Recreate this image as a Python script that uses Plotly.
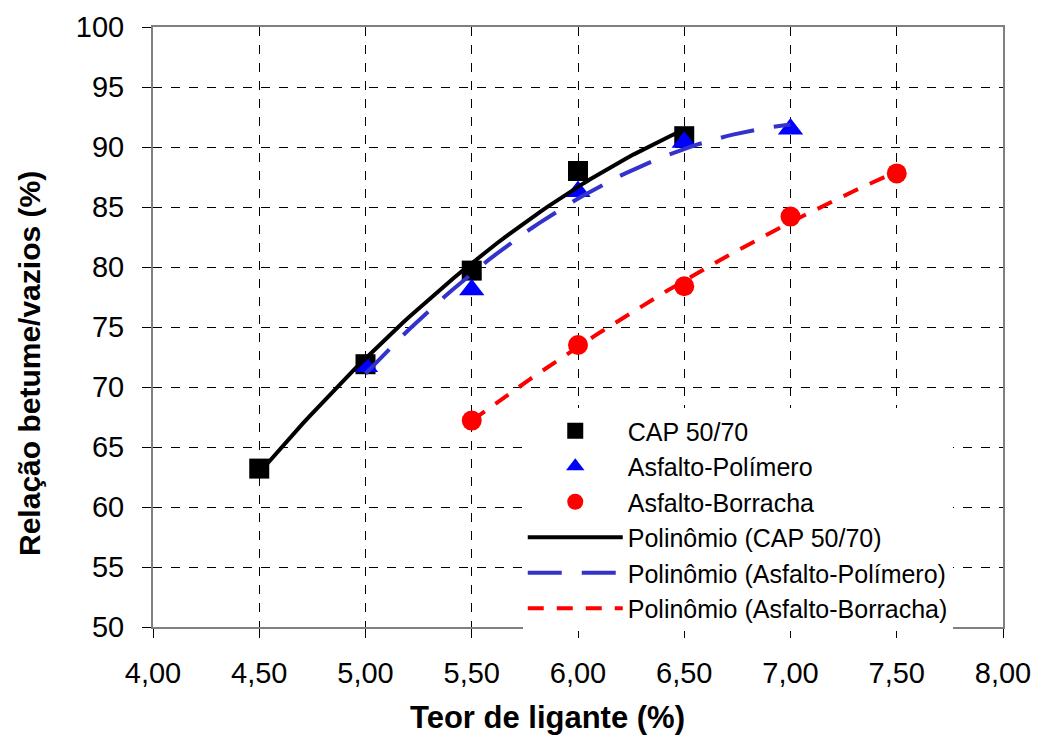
import numpy as np
import plotly.graph_objects as go

teor_cap = [4.5, 5.0, 5.5, 6.0, 6.5]
rbv_cap = [63.2, 71.9, 79.7, 88.0, 90.9]

teor_pol = [5.0, 5.5, 6.0, 6.5, 7.0]
rbv_pol = [71.7, 78.1, 86.3, 90.4, 91.5]

teor_bor = [5.5, 6.0, 6.5, 7.0, 7.5]
rbv_bor = [67.2, 73.5, 78.4, 84.2, 87.8]

x_ticks = [4.0, 4.5, 5.0, 5.5, 6.0, 6.5, 7.0, 7.5, 8.0]
x_tick_labels = ["4,00", "4,50", "5,00", "5,50", "6,00", "6,50", "7,00", "7,50", "8,00"]
y_ticks = [50, 55, 60, 65, 70, 75, 80, 85, 90, 95, 100]


def trend(xs, ys):
    c = np.polyfit(xs, ys, 2)
    xx = np.linspace(min(xs), max(xs), 60)
    return xx, np.polyval(c, xx)


fig = go.Figure()
fig.add_trace(go.Scatter(x=teor_cap, y=rbv_cap, mode="markers", name="CAP 50/70",
                         marker=dict(symbol="square", size=20, color="black")))
fig.add_trace(go.Scatter(x=teor_pol, y=rbv_pol, mode="markers", name="Asfalto-Polímero",
                         marker=dict(symbol="triangle-up", size=22, color="#0000ff")))
fig.add_trace(go.Scatter(x=teor_bor, y=rbv_bor, mode="markers", name="Asfalto-Borracha",
                         marker=dict(symbol="circle", size=20, color="#ff0000")))

xx, yy = trend(teor_cap, rbv_cap)
fig.add_trace(go.Scatter(x=xx, y=yy, mode="lines", name="Polinômio (CAP 50/70)",
                         line=dict(color="black", width=4)))
xx, yy = trend(teor_pol, rbv_pol)
fig.add_trace(go.Scatter(x=xx, y=yy, mode="lines", name="Polinômio (Asfalto-Polímero)",
                         line=dict(color="#3333cc", width=4, dash="34px,20px")))
xx, yy = trend(teor_bor, rbv_bor)
fig.add_trace(go.Scatter(x=xx, y=yy, mode="lines", name="Polinômio (Asfalto-Borracha)",
                         line=dict(color="#ff0000", width=4, dash="16px,13px")))

fig.update_layout(
    width=1038, height=738,
    margin=dict(l=153, r=35, t=27, b=111),
    paper_bgcolor="white", plot_bgcolor="white",
    font=dict(family="Liberation Sans, Arial, sans-serif", color="black", size=30),
    showlegend=True,
    legend=dict(x=0.435, y=0.365, xanchor="left", yanchor="top",
                bgcolor="white", borderwidth=0, itemwidth=95,
                font=dict(size=25), tracegroupgap=0),
    xaxis=dict(range=[4.0, 8.0], tickvals=x_ticks, ticktext=x_tick_labels,
               showgrid=True, gridcolor="black", griddash="dash", gridwidth=1,
               showline=True, linecolor="#808080", linewidth=2, mirror=True,
               ticks="outside", ticklen=9, tickcolor="black",
               zeroline=False, tickfont=dict(size=29), ticklabelstandoff=10,
               automargin=False),
    yaxis=dict(range=[50, 100], tickvals=y_ticks,
               showgrid=True, gridcolor="black", griddash="dash", gridwidth=1,
               showline=True, linecolor="#808080", linewidth=2, mirror=True,
               ticks="outside", ticklen=9, tickcolor="black",
               zeroline=False, tickfont=dict(size=29), ticklabelstandoff=12,
               automargin=False),
    annotations=[
        dict(text="<b>Teor de ligante (%)</b>", xref="paper", yref="paper",
             x=0.4647, y=-0.150, xanchor="center", yanchor="middle",
             showarrow=False, font=dict(size=31)),
        dict(text="<b>Relação betume/vazios (%)</b>", xref="paper", yref="paper",
             x=-0.1459, y=0.44, xanchor="center", yanchor="middle",
             textangle=-90, showarrow=False, font=dict(size=30)),
    ],
)

fig.write_html("out.html")
